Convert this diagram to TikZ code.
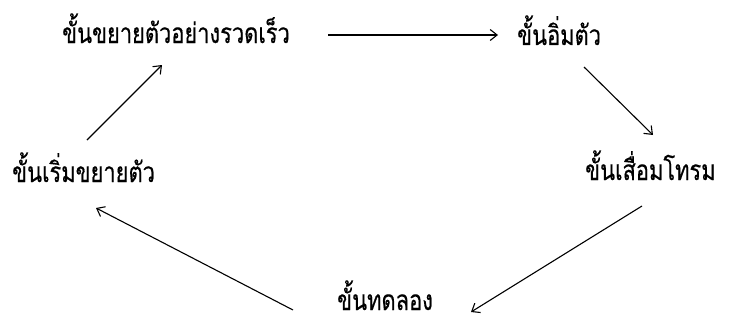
\documentclass[tikz,border=0pt]{standalone}
\usepackage{fontspec}
\newfontfamily\thaifont[Script=Thai,FakeStretch=0.78,FakeBold=0.4]{Loma}
\usetikzlibrary{arrows.meta}
\begin{document}
\begin{tikzpicture}[x=1pt,y=1pt,
  lbl/.style={anchor=base west,inner sep=0pt,font=\thaifont\fontsize{28}{32}\selectfont},
  conn/.style={line width=1.1pt,-{Straight Barb[length=7pt,width=11pt,line width=1.1pt]}}]
\useasboundingbox (0,0) rectangle (729,325);
\node[lbl] (rapid) at (62,282) {ขั้นขยายตัวอย่างรวดเร็ว};
\node[lbl] (sat) at (517,280) {ขั้นอิ่มตัว};
\node[lbl] (dec) at (585,145) {ขั้นเสื่อมโทรม};
\node[lbl] (start) at (12,143) {ขั้นเริ่มขยายตัว};
\node[lbl] (trial) at (337,15) {ขั้นทดลอง};
\coordinate (a1s) at (87,185); \coordinate (a1e) at (162,260);
\coordinate (a2s) at (328,290); \coordinate (a2e) at (498,290);
\coordinate (a3s) at (584,258); \coordinate (a3e) at (653,190);
\coordinate (a4s) at (642,119); \coordinate (a4e) at (471,13);
\coordinate (a5s) at (293,15); \coordinate (a5e) at (96,117);
\draw[conn] (a1s) -- (a1e);
\draw[conn] (a2s) -- (a2e);
\draw[conn] (a3s) -- (a3e);
\draw[conn] (a4s) -- (a4e);
\draw[conn] (a5s) -- (a5e);
\end{tikzpicture}
\end{document}
